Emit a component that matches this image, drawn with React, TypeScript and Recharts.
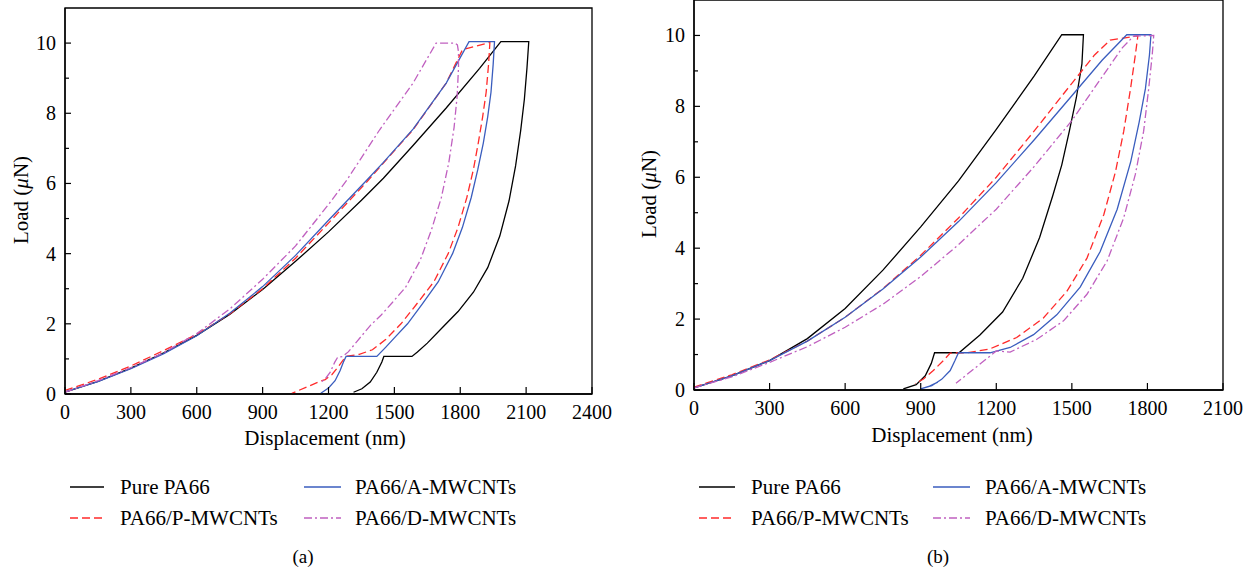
import React from 'react';
import { LineChart, Line, XAxis, YAxis, ReferenceArea } from 'recharts';

type Pt = [number, number];

// series names / styles (legend order: col 1 = black, red; col 2 = blue, purple)
const seriesNames = ['Pure PA66', 'PA66/P-MWCNTs', 'PA66/A-MWCNTs', 'PA66/D-MWCNTs'];
const seriesColors = ['#000000', '#ff2a2a', '#3a5dbe', '#c060c0'];
const seriesDash = ['', '8 4', '', '8 3 2 3'];

const xTicksA = [0, 300, 600, 900, 1200, 1500, 1800, 2100, 2400];
const xTicksB = [0, 300, 600, 900, 1200, 1500, 1800, 2100];
const yTicks = [0, 1, 2, 3, 4, 5, 6, 7, 8, 9, 10];

// ---- panel (a): displacement (nm), load (uN) ----
const pureA: Pt[] = [
  [0, 0.05], [150, 0.36], [300, 0.74], [450, 1.17], [600, 1.67], [750, 2.27], [900, 2.98],
  [1050, 3.78], [1200, 4.62], [1350, 5.52], [1450, 6.15], [1585, 7.08], [1736, 8.15],
  [1888, 9.28], [1985, 10.04], [2112, 10.04], [2104, 9.3], [2092, 8.4], [2075, 7.5],
  [2052, 6.5], [2022, 5.5], [1980, 4.5], [1925, 3.6], [1860, 2.9], [1790, 2.35], [1720, 1.9],
  [1650, 1.45], [1605, 1.2], [1580, 1.07], [1452, 1.07], [1443, 0.91], [1420, 0.62],
  [1390, 0.34], [1352, 0.15], [1314, 0.05],
];
const pA: Pt[] = [
  [0, 0.1], [150, 0.42], [300, 0.8], [450, 1.24], [600, 1.7], [750, 2.28], [900, 3.0],
  [1050, 3.87], [1200, 4.87], [1375, 6.05], [1450, 6.58], [1585, 7.53], [1736, 8.86],
  [1810, 9.81], [1935, 10.02], [1929, 9.4], [1918, 8.6], [1902, 7.9], [1882, 7.15],
  [1860, 6.4], [1830, 5.6], [1790, 4.75], [1745, 4.0], [1680, 3.2], [1600, 2.55], [1530, 2.0],
  [1460, 1.55], [1400, 1.26], [1340, 1.13], [1285, 1.08], [1268, 0.98], [1246, 0.79],
  [1215, 0.55], [1185, 0.41], [1162, 0.36], [1033, 0.02],
];
const aA: Pt[] = [
  [0, 0.06], [150, 0.35], [300, 0.72], [450, 1.15], [600, 1.66], [750, 2.3], [900, 3.06],
  [1050, 3.95], [1200, 4.95], [1375, 6.1], [1450, 6.6], [1585, 7.55], [1736, 8.86],
  [1840, 10.04], [1956, 10.04], [1950, 9.4], [1940, 8.6], [1925, 7.9], [1905, 7.15],
  [1880, 6.4], [1850, 5.6], [1810, 4.75], [1765, 4.0], [1700, 3.2], [1625, 2.55], [1560, 2.0],
  [1500, 1.6], [1460, 1.33], [1420, 1.07], [1280, 1.07], [1268, 0.91], [1253, 0.67],
  [1230, 0.38], [1200, 0.17], [1165, 0.02],
];
const dA: Pt[] = [
  [0, 0.05], [150, 0.38], [300, 0.75], [450, 1.18], [600, 1.72], [750, 2.42], [900, 3.27],
  [1050, 4.22], [1200, 5.4], [1284, 6.1], [1433, 7.53], [1585, 8.86], [1690, 10.0],
  [1775, 10.0], [1787, 9.95], [1792, 9.75], [1792, 9.3], [1786, 8.5], [1772, 7.6],
  [1748, 6.6], [1714, 5.6], [1670, 4.7], [1617, 3.8], [1552, 3.05], [1490, 2.6], [1440, 2.25],
  [1390, 1.95], [1330, 1.5], [1290, 1.2], [1265, 1.07], [1242, 1.05], [1228, 0.9],
  [1208, 0.62], [1185, 0.43], [1168, 0.35],
];

// ---- panel (b) ----
const pureB: Pt[] = [
  [0, 0.06], [150, 0.4], [300, 0.83], [450, 1.45], [600, 2.3], [750, 3.38], [900, 4.6],
  [1050, 5.9], [1200, 7.35], [1350, 8.85], [1460, 10.02], [1546, 10.02], [1540, 9.2],
  [1518, 8.25], [1490, 7.3], [1460, 6.35], [1425, 5.5], [1372, 4.3], [1305, 3.15],
  [1225, 2.2], [1135, 1.55], [1052, 1.05], [955, 1.05], [942, 0.75], [918, 0.4],
  [882, 0.15], [831, 0.03],
];
const pB: Pt[] = [
  [0, 0.08], [150, 0.43], [300, 0.85], [450, 1.38], [600, 2.05], [750, 2.86], [900, 3.8],
  [1050, 4.85], [1200, 6.0], [1350, 7.3], [1500, 8.65], [1590, 9.45], [1652, 9.87],
  [1762, 9.99], [1752, 9.45], [1733, 8.5], [1706, 7.3], [1673, 6.15], [1627, 4.95],
  [1560, 3.72], [1480, 2.78], [1387, 2.03], [1281, 1.48], [1175, 1.16], [1083, 1.05],
  [1017, 1.04], [990, 0.83], [950, 0.55], [911, 0.31], [878, 0.18],
];
const aB: Pt[] = [
  [0, 0.06], [150, 0.4], [300, 0.83], [450, 1.38], [600, 2.05], [750, 2.85], [900, 3.75],
  [1050, 4.75], [1200, 5.85], [1350, 7.05], [1500, 8.3], [1620, 9.3], [1718, 10.02],
  [1814, 10.02], [1808, 9.45], [1792, 8.5], [1767, 7.55], [1734, 6.45], [1680, 5.1],
  [1612, 3.9], [1533, 2.9], [1440, 2.12], [1348, 1.56], [1255, 1.2], [1175, 1.05],
  [1050, 1.05], [1036, 0.83], [1017, 0.55], [983, 0.3], [944, 0.12], [900, 0.03],
  [935, 0.11], [968, 0.22],
];
const dB: Pt[] = [
  [0, 0.06], [150, 0.37], [300, 0.78], [450, 1.22], [600, 1.77], [750, 2.42], [900, 3.2],
  [1050, 4.1], [1200, 5.1], [1350, 6.3], [1500, 7.6], [1612, 8.75], [1700, 9.65],
  [1745, 9.98], [1825, 10.0], [1819, 9.45], [1805, 8.5], [1785, 7.3], [1752, 6.08],
  [1706, 4.86], [1640, 3.64], [1560, 2.7], [1467, 1.95], [1361, 1.43], [1255, 1.07],
  [1200, 1.1], [1040, 0.19],
];

const FONT = "'Liberation Serif', 'DejaVu Serif', serif";

const toRows = (pts: Pt[]) => pts.map(([x, y]) => ({ x, y }));

const XTick = (props: any) => {
  const { x, y, payload } = props;
  return (
    <g>
      <line x1={x} y1={y} x2={x} y2={y - 7} stroke="#000" strokeWidth={1.2} />
      <text x={x} y={y + 25} textAnchor="middle" fontFamily={FONT} fontSize={20} fill="#000">
        {payload.value}
      </text>
    </g>
  );
};

const YTick = (props: any) => {
  const { x, y, payload } = props;
  const major = payload.value % 2 === 0;
  return (
    <g>
      <line x1={x} y1={y} x2={x + (major ? 6 : 4)} y2={y} stroke="#000" strokeWidth={1.2} />
      {major && (
        <text x={x - 9} y={y} dy="0.35em" textAnchor="end" fontFamily={FONT} fontSize={20} fill="#000">
          {payload.value}
        </text>
      )}
    </g>
  );
};

interface PanelProps {
  left: number;
  marginTop: number;
  marginRight: number;
  xHeight: number;
  xMax: number;
  xTicks: number[];
  curves: Pt[][];
}

const Panel: React.FC<PanelProps> = ({ left, marginTop, marginRight, xHeight, xMax, xTicks, curves }) => (
  <div style={{ position: 'absolute', left, top: 0 }}>
    <LineChart width={620} height={450} margin={{ top: marginTop, right: marginRight, left: 0, bottom: 0 }}>
      <XAxis
        type="number"
        dataKey="x"
        domain={[0, xMax]}
        ticks={xTicks}
        interval={0}
        height={xHeight}
        tickSize={0}
        tickMargin={0}
        tickLine={false}
        axisLine={{ stroke: '#000', strokeWidth: 1.3 }}
        tick={(p: any) => <XTick {...p} />}
        allowDataOverflow
      />
      <YAxis
        type="number"
        dataKey="y"
        domain={[0, 11]}
        ticks={yTicks}
        interval={0}
        width={65}
        tickSize={0}
        tickMargin={0}
        tickLine={false}
        axisLine={{ stroke: '#000', strokeWidth: 1.3 }}
        tick={(p: any) => <YTick {...p} />}
        allowDataOverflow
      />
      <ReferenceArea x1={0} x2={xMax} y1={0} y2={11} fill="none" stroke="#000" strokeWidth={1.3} />
      {curves.map((pts, i) => (
        <Line
          key={seriesNames[i]}
          name={seriesNames[i]}
          data={toRows(pts)}
          dataKey="y"
          type="linear"
          stroke={seriesColors[i]}
          strokeWidth={1.3}
          strokeDasharray={seriesDash[i] || undefined}
          dot={false}
          activeDot={false}
          isAnimationActive={false}
        />
      ))}
    </LineChart>
  </div>
);

const LoadTitle: React.FC<{ cx: number; cy: number }> = ({ cx, cy }) => (
  <div
    style={{
      position: 'absolute', left: cx - 100, top: cy - 14, width: 200, height: 28, lineHeight: '28px',
      textAlign: 'center', transform: 'rotate(-90deg)', fontFamily: FONT, fontSize: 21,
    }}
  >
    Load (<i>μ</i>N)
  </div>
);

const XTitle: React.FC<{ cx: number; cy: number }> = ({ cx, cy }) => (
  <div
    style={{
      position: 'absolute', left: cx - 150, top: cy - 14, width: 300, height: 28, lineHeight: '28px',
      textAlign: 'center', fontFamily: FONT, fontSize: 21,
    }}
  >
    Displacement (nm)
  </div>
);

const LegendBlock: React.FC<{ cols: number[][] }> = ({ cols }) => {
  // cols: [lineX1, lineX2, textX] for the two columns
  const rows = [487, 518];
  const order = [[0, 2], [1, 3]];
  return (
    <>
      {order.map((rowItems, r) =>
        rowItems.map((s, c) => {
          const [x1, x2, tx] = cols[c];
          return (
            <React.Fragment key={`${r}-${c}`}>
              <svg style={{ position: 'absolute', left: x1, top: rows[r] - 3 }} width={x2 - x1} height={6}>
                <line x1={0} y1={3} x2={x2 - x1} y2={3} stroke={seriesColors[s]} strokeWidth={1.6}
                  strokeDasharray={seriesDash[s] || undefined} />
              </svg>
              <div style={{ position: 'absolute', left: tx, top: rows[r] - 14, height: 28, lineHeight: '28px',
                fontFamily: FONT, fontSize: 21, whiteSpace: 'nowrap' }}>
                {seriesNames[s]}
              </div>
            </React.Fragment>
          );
        }),
      )}
    </>
  );
};

const Caption: React.FC<{ cx: number; text: string }> = ({ cx, text }) => (
  <div style={{ position: 'absolute', left: cx - 30, top: 545, width: 60, textAlign: 'center',
    fontFamily: FONT, fontSize: 19, lineHeight: '24px' }}>
    {text}
  </div>
);

export default function App() {
  return (
    <div style={{ position: 'relative', width: 1250, height: 573, background: '#fff', overflow: 'hidden' }}>
      <style>{'body{margin:0;}'}</style>
      <Panel left={0} marginTop={8} marginRight={28} xHeight={56} xMax={2400} xTicks={xTicksA}
        curves={[pureA, pA, aA, dA]} />
      <Panel left={629} marginTop={0} marginRight={26} xHeight={60} xMax={2100} xTicks={xTicksB}
        curves={[pureB, pB, aB, dB]} />
      <LoadTitle cx={21} cy={200} />
      <LoadTitle cx={649} cy={194} />
      <XTitle cx={325} cy={438} />
      <XTitle cx={952} cy={435} />
      <LegendBlock cols={[[70, 104, 120], [304, 341, 355]]} />
      <LegendBlock cols={[[699, 735, 751], [933, 970, 985]]} />
      <Caption cx={303} text="(a)" />
      <Caption cx={938} text="(b)" />
    </div>
  );
}
